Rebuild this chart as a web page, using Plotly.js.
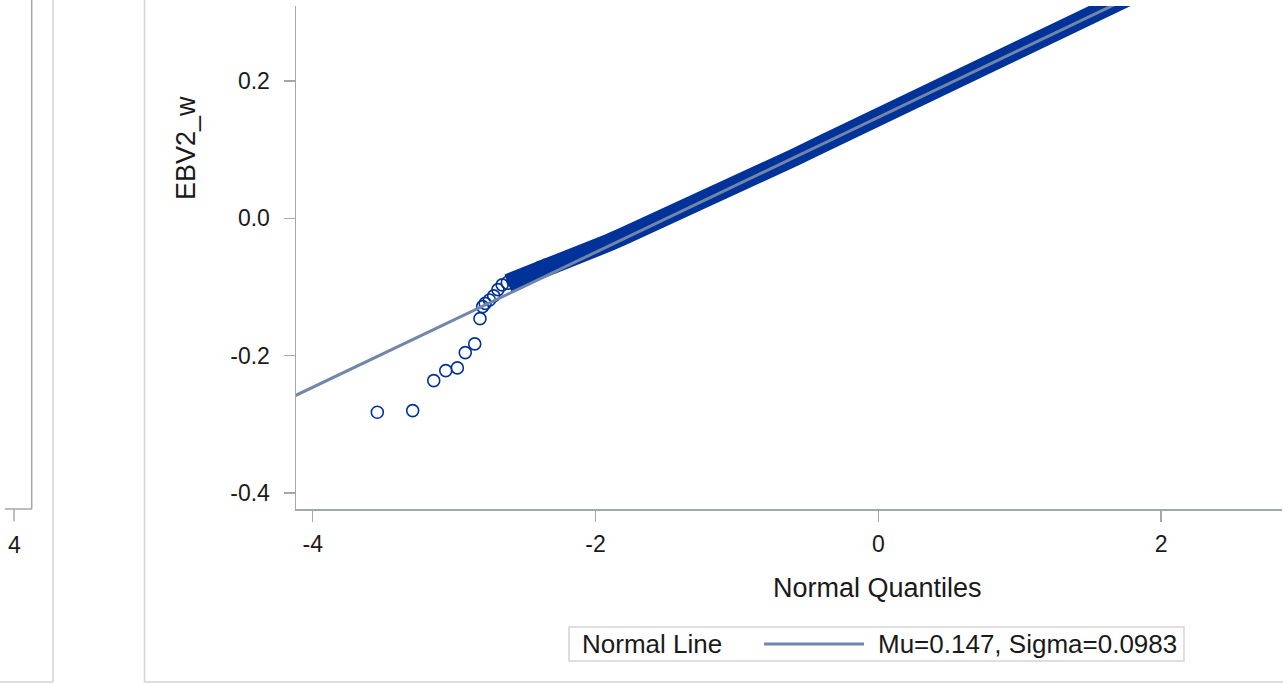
<!DOCTYPE html>
<html>
<head>
<meta charset="utf-8">
<script src="https://cdn.plot.ly/plotly-3.0.1.min.js"></script>
<style>
html,body{margin:0;padding:0;background:#fff;}
#chart{width:1283px;height:684px;}
</style>
</head>
<body>
<div id="chart"></div>
<script>
// ---- Data ----
const mu = 0.147;
const sigma = 0.0983;

// sparse lower tail (normal quantile, EBV2_w)
const tailQ = [-3.543, -3.293, -3.144, -3.059, -2.977, -2.921, -2.854, -2.817, -2.798, -2.78, -2.75, -2.72, -2.69, -2.66];
const tailV = [-0.2825, -0.2802, -0.2365, -0.2219, -0.2180, -0.1957, -0.1830, -0.1462, -0.1287, -0.124, -0.119, -0.113, -0.104, -0.097];

// dense body of the distribution
const bodyQ = [-2.62, -2.58, -2.54, -2.50, -2.46, -2.42, -2.39, -2.35, -2.30, -2.25, -2.20, -2.10, -2.00, -1.90, -1.80, -1.70, -1.60, -1.50, -1.40, -1.30, -1.20, -1.10, -1.00, -0.80, -0.60, -0.40, -0.20, 0.00, 0.20, 0.40, 0.60, 0.80, 1.00, 1.20, 1.40, 1.60, 1.80, 2.00];
const bodyV = [-0.094, -0.091, -0.088, -0.085, -0.083, -0.078, -0.072, -0.069, -0.066, -0.063, -0.060, -0.052, -0.044, -0.035, -0.026, -0.017, -0.008, 0.001, 0.011, 0.020, 0.030, 0.040, 0.049, 0.069, 0.088, 0.108, 0.128, 0.148, 0.167, 0.187, 0.207, 0.227, 0.246, 0.266, 0.286, 0.305, 0.325, 0.345];

const xTicks = [-4, -2, 0, 2];
const yTicks = [-0.4, -0.2, 0.0, 0.2];
const xTitle = "Normal Quantiles";
const yTitle = "EBV2_w";
const legendTitle = "Normal Line";
const legendLabel = "Mu=" + mu.toFixed(3) + ", Sigma=" + sigma.toFixed(4);
const stubTick = "4";

// ---- Layout geometry (pixels) ----
const L = 296, T = 6, R = 1, B = 175;
const W = 1283 - L - R, H = 684 - T - B;
const px = p => (p - L) / W;
const py = p => 1 - (p - T) / H;

const blue = '#003399';
const fitColor = '#7186a8';
const axisGray = '#a3a6ab';
const frameGray = '#d3d3d3';
const textColor = '#1a1a1a';
const FONT = 'Liberation Sans, Arial, sans-serif';

const lineX = [-4.3, 3.0];
const lineY = lineX.map(q => mu + sigma * q);

const traces = [
  {
    x: bodyQ, y: bodyV, type: 'scatter', mode: 'lines',
    line: {color: blue, width: 18},
    hoverinfo: 'skip', showlegend: false
  },
  {
    x: bodyQ, y: bodyV, type: 'scatter', mode: 'markers',
    marker: {symbol: 'circle-open', size: 13, color: blue, line: {width: 1.6, color: blue}},
    showlegend: false
  },
  {
    x: tailQ, y: tailV, type: 'scatter', mode: 'markers',
    marker: {symbol: 'circle-open', size: 12, color: blue, line: {width: 1.6, color: blue}},
    showlegend: false
  },
  {
    x: lineX, y: lineY, type: 'scatter', mode: 'lines',
    line: {color: fitColor, width: 3},
    showlegend: false
  }
];

function seg(x0, y0, x1, y1, color, w) {
  return {type: 'line', xref: 'paper', yref: 'paper', x0: px(x0), y0: py(y0), x1: px(x1), y1: py(y1),
          line: {color: color, width: w || 1.5}, layer: 'above'};
}

const shapes = [
  // fragments of neighbouring panels
  seg(31.7, -2, 31.7, 509, axisGray),
  seg(5, 509, 31.7, 509, axisGray),
  seg(14, 509, 14, 521, axisGray),
  seg(53, -2, 53, 682, frameGray),
  seg(-2, 682, 53, 682, frameGray),
  seg(144.5, -2, 144.5, 682, frameGray),
  seg(144.5, 682, 1285, 682, frameGray),
  // legend box
  {type: 'rect', xref: 'paper', yref: 'paper', x0: px(569), y0: py(627), x1: px(1184), y1: py(661),
   line: {color: frameGray, width: 1.5}, fillcolor: 'rgba(0,0,0,0)'},
  seg(764, 644, 864, 644, fitColor, 3)
];

const annotations = [
  {text: stubTick, xref: 'paper', yref: 'paper', x: px(14), y: py(545), showarrow: false,
   xanchor: 'center', yanchor: 'middle', font: {family: FONT, size: 23, color: textColor}},
  {text: xTitle, xref: 'paper', yref: 'paper', x: px(877), y: py(588), showarrow: false,
   xanchor: 'center', yanchor: 'middle', font: {family: FONT, size: 27, color: textColor}},
  {text: yTitle, xref: 'paper', yref: 'paper', x: px(186), y: py(148), showarrow: false,
   textangle: -90, xanchor: 'center', yanchor: 'middle', font: {family: FONT, size: 27, color: textColor}},
  {text: legendTitle, xref: 'paper', yref: 'paper', x: px(580), y: py(644), showarrow: false,
   xanchor: 'left', yanchor: 'middle', font: {family: FONT, size: 26, color: textColor}},
  {text: legendLabel, xref: 'paper', yref: 'paper', x: px(876), y: py(644), showarrow: false,
   xanchor: 'left', yanchor: 'middle', font: {family: FONT, size: 26, color: textColor}}
];

function px2q(p) { return (p - 878.3) / 141.4; }

const layout = {
  width: 1283, height: 684,
  margin: {l: L, r: R, t: T, b: B, pad: 0},
  paper_bgcolor: '#fff', plot_bgcolor: '#fff',
  showlegend: false,
  xaxis: {
    range: [px2q(L), px2q(1283 - R)],
    tickvals: xTicks, ticktext: xTicks.map(String),
    ticks: 'outside', ticklen: 11, tickwidth: 1.5, tickcolor: axisGray,
    ticklabelstandoff: 3,
    showline: true, linecolor: axisGray, linewidth: 1.5,
    showgrid: false, zeroline: false,
    tickfont: {family: FONT, size: 23, color: textColor}
  },
  yaxis: {
    range: [-0.4235, 0.3092],
    tickvals: yTicks, ticktext: yTicks.map(v => v.toFixed(1)),
    ticks: 'outside', ticklen: 11, tickwidth: 1.5, tickcolor: axisGray,
    ticklabelstandoff: 9,
    showline: true, linecolor: axisGray, linewidth: 1.5,
    showgrid: false, zeroline: false,
    tickfont: {family: FONT, size: 23, color: textColor}
  },
  shapes: shapes,
  annotations: annotations
};

Plotly.newPlot('chart', traces, layout, {staticPlot: true, displayModeBar: false});
</script>
</body>
</html>
